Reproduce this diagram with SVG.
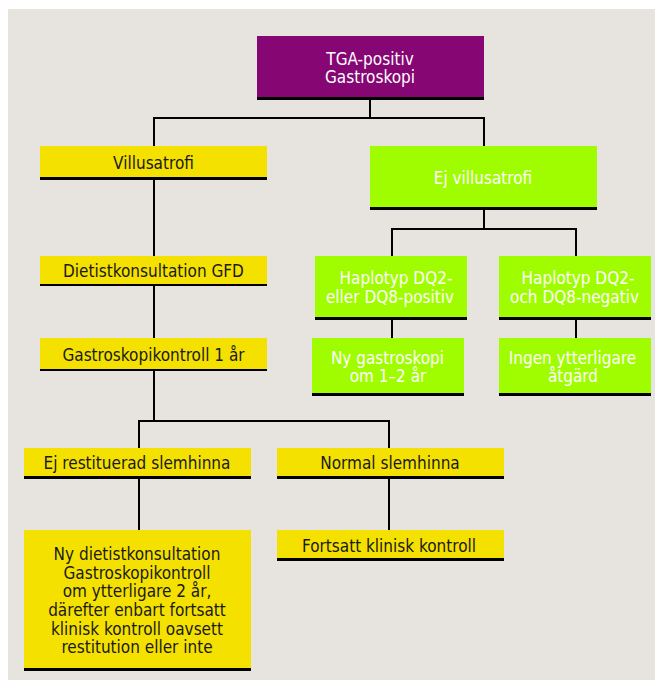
<svg xmlns="http://www.w3.org/2000/svg" width="655" height="681" viewBox="0 0 655 681">
<style>
.shadow{fill:#000}
.purple{fill:#860674}
.yellow{fill:#f4e100}
.green{fill:#a0fd00}
text{font-family:"DejaVu Sans Condensed","DejaVu Sans","Liberation Sans",sans-serif;font-stretch:condensed;font-size:17px;text-anchor:middle}
.dark{fill:#1a1a1a}
.light{fill:#ffffff}
.conn{stroke:#000;stroke-width:2;fill:none}
</style>
<rect x="0" y="0" width="655" height="681" fill="#ffffff"/>
<rect x="8" y="9" width="647" height="671" fill="#e7e4e0"/>
<g id="connectors">
<path class="conn" d="M370 100V118M154 118H484M154 117V146M484 117V146"/>
<path class="conn" d="M154 180V256M154 286V338"/>
<path class="conn" d="M484 210V229M392 229H576M392 228V256M576 228V256"/>
<path class="conn" d="M392 320V338M576 320V338"/>
<path class="conn" d="M154 371V421M139 421H389M139 420V448M389 420V448"/>
<path class="conn" d="M139 479V530M389 479V530"/>
</g>
<g id="n-tga">
<rect class="shadow" x="257" y="39" width="227" height="61"/>
<rect class="purple" x="257" y="36" width="227" height="61"/>
<text class="light" x="370" y="65">TGA-positiv</text>
<text class="light" x="370" y="83">Gastroskopi</text>
</g>
<g id="n-villus">
<rect class="shadow" x="40" y="149" width="227" height="31"/>
<rect class="yellow" x="40" y="146" width="227" height="31"/>
<text class="dark" x="153.5" y="169">Villusatrofi</text>
</g>
<g id="n-ejvillus">
<rect class="shadow" x="370" y="149" width="227" height="61"/>
<rect class="green" x="370" y="146" width="227" height="61"/>
<text class="light" x="483" y="184">Ej villusatrofi</text>
</g>
<g id="n-dietist">
<rect class="shadow" x="40" y="259" width="227" height="27"/>
<rect class="yellow" x="40" y="256" width="227" height="28"/>
<text class="dark" x="153.5" y="277">Dietistkonsultation GFD</text>
</g>
<g id="n-gastro1">
<rect class="shadow" x="40" y="341" width="227" height="30"/>
<rect class="yellow" x="40" y="338" width="227" height="31"/>
<text class="dark" x="153.5" y="361">Gastroskopikontroll 1 år</text>
</g>
<g id="n-hap-pos">
<rect class="shadow" x="315" y="259" width="152" height="61"/>
<rect class="green" x="315" y="256" width="152" height="61"/>
<text class="light" x="396" y="284">Haplotyp DQ2-</text>
<text class="light" x="390" y="303">eller DQ8-positiv</text>
</g>
<g id="n-hap-neg">
<rect class="shadow" x="499" y="259" width="152" height="61"/>
<rect class="green" x="499" y="256" width="152" height="61"/>
<text class="light" x="578" y="284">Haplotyp DQ2-</text>
<text class="light" x="574.5" y="303">och DQ8-negativ</text>
</g>
<g id="n-nygastro">
<rect class="shadow" x="312" y="341" width="152" height="55"/>
<rect class="green" x="312" y="338" width="152" height="55"/>
<text class="light" x="387.5" y="364">Ny gastroskopi</text>
<text class="light" x="388" y="382">om 1–2 år</text>
</g>
<g id="n-ingen">
<rect class="shadow" x="499" y="341" width="152" height="55"/>
<rect class="green" x="499" y="338" width="152" height="55"/>
<text class="light" x="572.5" y="364">Ingen ytterligare</text>
<text class="light" x="573" y="382">åtgärd</text>
</g>
<g id="n-ejrest">
<rect class="shadow" x="24" y="451" width="227" height="28"/>
<rect class="yellow" x="24" y="448" width="227" height="28"/>
<text class="dark" x="137" y="469">Ej restituerad slemhinna</text>
</g>
<g id="n-normal">
<rect class="shadow" x="277" y="451" width="227" height="28"/>
<rect class="yellow" x="277" y="448" width="227" height="28"/>
<text class="dark" x="390" y="469">Normal slemhinna</text>
</g>
<g id="n-nydiet">
<rect class="shadow" x="24" y="533" width="227" height="138"/>
<rect class="yellow" x="24" y="530" width="227" height="138"/>
<text class="dark" x="137" y="560">Ny dietistkonsultation</text>
<text class="dark" x="137" y="579">Gastroskopikontroll</text>
<text class="dark" x="137" y="597">om ytterligare 2 år,</text>
<text class="dark" x="137" y="616">därefter enbart fortsatt</text>
<text class="dark" x="137" y="635">klinisk kontroll oavsett</text>
<text class="dark" x="137" y="653">restitution eller inte</text>
</g>
<g id="n-fortsatt">
<rect class="shadow" x="277" y="533" width="227" height="28"/>
<rect class="yellow" x="277" y="530" width="227" height="28"/>
<text class="dark" x="389" y="552">Fortsatt klinisk kontroll</text>
</g>
</svg>
